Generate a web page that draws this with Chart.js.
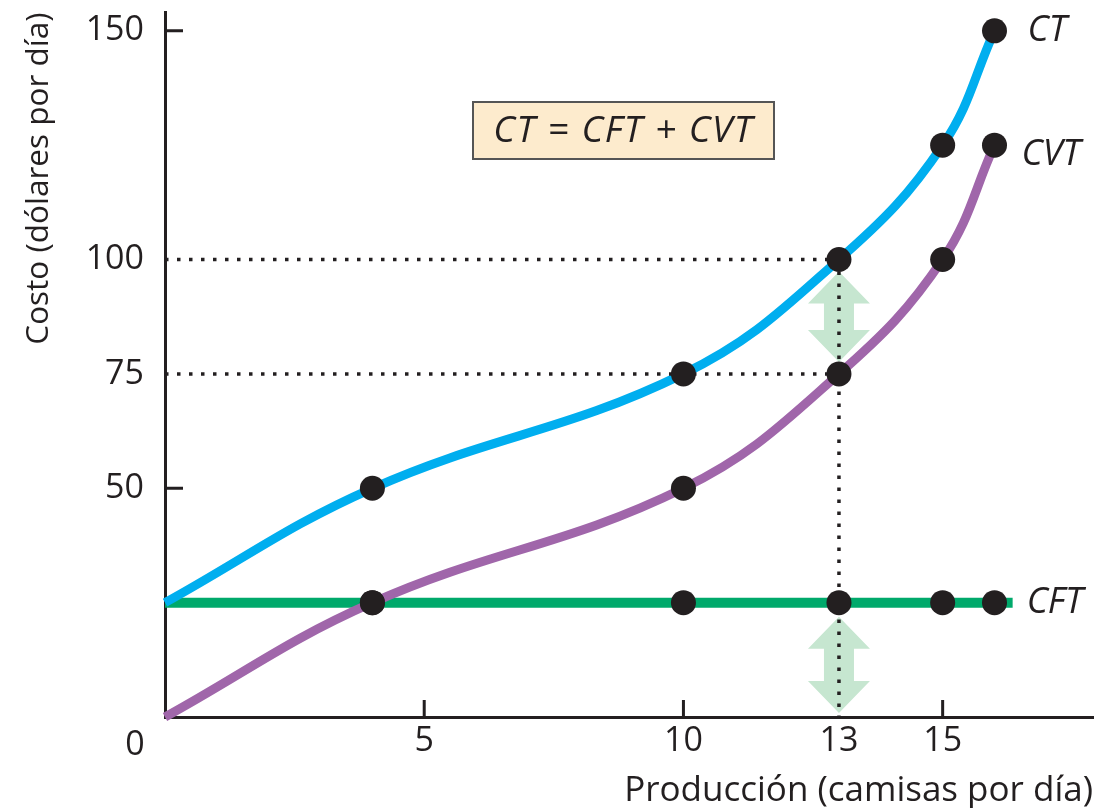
<!DOCTYPE html>
<html>
<head>
<meta charset="utf-8">
<script src="https://cdn.jsdelivr.net/npm/chart.js@4.4.1/dist/chart.umd.min.js"></script>
<style>
  html, body { margin: 0; padding: 0; background: #ffffff; }
  #costChart { display: block; }
</style>
</head>
<body>
<canvas id="costChart" width="1117" height="808"></canvas>
<script>
// Producción (camisas por día) y costos (dólares por día)
const output = [0, 4, 10, 13, 15, 16];
const costFixed = [25, 25, 25, 25, 25, 25];
const costVariable = [0, 25, 50, 75, 100, 125];
const costTotal = [25, 50, 75, 100, 125, 150];
const cftLineEnd = 16.35;

const xTicks = [5, 10, 13, 15];
const yTicks = [50, 75, 100, 150];
const guideX = 13;
const guideLevels = [75, 100];

const ink = "#231f20";
const colorCT = "#00aeef";
const colorCVT = "#a066aa";
const colorCFT = "#00a96b";

Chart.defaults.font.family = "'Open Sans', sans-serif";
Chart.defaults.color = ink;

function pairs(xs, ys) {
    return xs.map((x, i) => ({ x: x, y: ys[i] }));
}

function markers(xs, ys) {
    // no marker at the origin value
    return pairs(xs, ys).slice(1);
}

const cftLine = pairs(output, costFixed).concat([{ x: cftLineEnd, y: costFixed[0] }]);

const guideSets = guideLevels.map(level => ({
    data: [{ x: 0, y: level }, { x: guideX, y: level }],
    borderColor: ink,
    borderWidth: 3.5,
    borderDash: [3.5, 8.5],
    pointRadius: 0,
    order: 1
}));
guideSets.push({
    data: [{ x: guideX, y: Math.max(...guideLevels) }, { x: guideX, y: 0 }],
    borderColor: ink,
    borderWidth: 3.5,
    borderDash: [3.5, 8.5],
    pointRadius: 0,
    order: 1
});

function drawDoubleArrow(ctx, x, yTop, yBottom) {
    const headW = 31, shaftW = 15, headH = 32;
    ctx.beginPath();
    ctx.moveTo(x, yTop);
    ctx.lineTo(x + headW, yTop + headH);
    ctx.lineTo(x + shaftW, yTop + headH);
    ctx.lineTo(x + shaftW, yBottom - headH);
    ctx.lineTo(x + headW, yBottom - headH);
    ctx.lineTo(x, yBottom);
    ctx.lineTo(x - headW, yBottom - headH);
    ctx.lineTo(x - shaftW, yBottom - headH);
    ctx.lineTo(x - shaftW, yTop + headH);
    ctx.lineTo(x - headW, yTop + headH);
    ctx.closePath();
    ctx.fillStyle = "#c6e6d0";
    ctx.fill();
}

function noPadding(scale) {
    scale.paddingTop = 0;
    scale.paddingBottom = 0;
    scale.paddingLeft = 0;
    scale.paddingRight = 0;
}

const decor = {
    id: "decor",
    beforeDatasetsDraw(chart) {
        const ctx = chart.ctx;
        const xs = chart.scales.x, ys = chart.scales.y;
        const px = xs.getPixelForValue(guideX);
        ctx.save();
        // CVT gap between CT and CVT, and CFT gap down to the axis
        drawDoubleArrow(ctx, px, ys.getPixelForValue(costTotal[3]) + 12, ys.getPixelForValue(costVariable[3]) - 12);
        drawDoubleArrow(ctx, px, ys.getPixelForValue(costFixed[3]) + 14, ys.getPixelForValue(0) - 4);
        ctx.restore();
    },
    afterDraw(chart) {
        const ctx = chart.ctx;
        const xs = chart.scales.x, ys = chart.scales.y;
        const area = chart.chartArea;
        ctx.save();

        // inner tick marks (skipped where a dotted guide starts)
        ctx.strokeStyle = ink;
        ctx.lineWidth = 3;
        ctx.beginPath();
        yTicks.filter(v => !guideLevels.includes(v)).forEach(v => {
            const y = ys.getPixelForValue(v);
            ctx.moveTo(area.left, y);
            ctx.lineTo(area.left + 18, y);
        });
        xTicks.filter(v => v !== guideX).forEach(v => {
            const x = xs.getPixelForValue(v);
            ctx.moveTo(x, area.bottom);
            ctx.lineTo(x, area.bottom - 17);
        });
        ctx.stroke();

        // origin label
        ctx.fillStyle = ink;
        ctx.font = "34px 'Open Sans', sans-serif";
        ctx.textAlign = "center";
        ctx.textBaseline = "middle";
        ctx.fillText("0", area.left - 30, area.bottom + 28);

        // curve labels
        ctx.font = "italic 36px 'Open Sans', sans-serif";
        ctx.textAlign = "left";
        const last = output.length - 1;
        ctx.fillText("CT", xs.getPixelForValue(output[last]) + 33, ys.getPixelForValue(costTotal[last]));
        ctx.fillText("CVT", xs.getPixelForValue(output[last]) + 27, ys.getPixelForValue(costVariable[last]) + 10);
        ctx.fillText("CFT", xs.getPixelForValue(cftLineEnd) + 14, ys.getPixelForValue(costFixed[0]));

        // identity box
        const bx = 473, by = 102, bw = 301, bh = 57;
        ctx.fillStyle = "#fdebcd";
        ctx.fillRect(bx, by, bw, bh);
        ctx.strokeStyle = "#555555";
        ctx.lineWidth = 2;
        ctx.strokeRect(bx, by, bw, bh);
        ctx.fillStyle = ink;
        ctx.font = "italic 37px 'Open Sans', sans-serif";
        ctx.letterSpacing = "1.5px";
        ctx.textAlign = "center";
        ctx.fillText("CT = CFT + CVT", bx + bw / 2, by + bh / 2 + 1);

        ctx.restore();
    }
};

new Chart(document.getElementById("costChart"), {
    type: "line",
    data: {
        datasets: [
            {
                data: markers(output, costTotal),
                showLine: false,
                pointRadius: 12.5,
                pointBackgroundColor: ink,
                pointBorderWidth: 0,
                order: 0
            },
            {
                data: markers(output, costVariable),
                showLine: false,
                pointRadius: 12.5,
                pointBackgroundColor: ink,
                pointBorderWidth: 0,
                order: 0
            },
            {
                data: markers(output, costFixed),
                showLine: false,
                pointRadius: 12.5,
                pointBackgroundColor: ink,
                pointBorderWidth: 0,
                order: 0
            },
            ...guideSets,
            {
                label: "CVT",
                data: pairs(output, costVariable),
                borderColor: colorCVT,
                borderWidth: 9,
                tension: 0.4,
                pointRadius: 0,
                order: 2
            },
            {
                label: "CT",
                data: pairs(output, costTotal),
                borderColor: colorCT,
                borderWidth: 9,
                tension: 0.4,
                pointRadius: 0,
                order: 3
            },
            {
                label: "CFT",
                data: cftLine,
                borderColor: colorCFT,
                borderWidth: 10,
                borderCapStyle: "butt",
                pointRadius: 0,
                order: 4
            }
        ]
    },
    options: {
        responsive: false,
        animation: false,
        events: [],
        clip: false,
        layout: { padding: { top: 6, right: 24, left: 0, bottom: 0 } },
        plugins: {
            legend: { display: false },
            tooltip: { enabled: false }
        },
        scales: {
            x: {
                type: "linear",
                min: 0,
                max: 17.9,
                afterFit(scale) { scale.height = 91; noPadding(scale); },
                afterBuildTicks(scale) { scale.ticks = xTicks.map(v => ({ value: v })); },
                grid: { display: true, drawOnChartArea: false, drawTicks: false },
                border: { display: true, color: ink, width: 3 },
                ticks: { font: { size: 34 }, padding: 4, maxRotation: 0, autoSkip: false },
                title: {
                    display: true,
                    text: "Producción (camisas por día)",
                    align: "end",
                    font: { size: 35 },
                    padding: { top: 0, bottom: -4 }
                }
            },
            y: {
                type: "linear",
                min: 0,
                max: 154,
                afterFit(scale) { scale.width = 165; noPadding(scale); },
                afterBuildTicks(scale) { scale.ticks = yTicks.map(v => ({ value: v })); },
                grid: { display: true, drawOnChartArea: false, drawTicks: false },
                border: { display: true, color: ink, width: 3 },
                ticks: { font: { size: 34 }, padding: 21, autoSkip: false },
                title: {
                    display: true,
                    text: "Costo (dólares por día)",
                    align: "end",
                    font: { size: 31.5 },
                    padding: { top: 20, bottom: 0 }
                }
            }
        }
    },
    plugins: [decor]
});
</script>
</body>
</html>
